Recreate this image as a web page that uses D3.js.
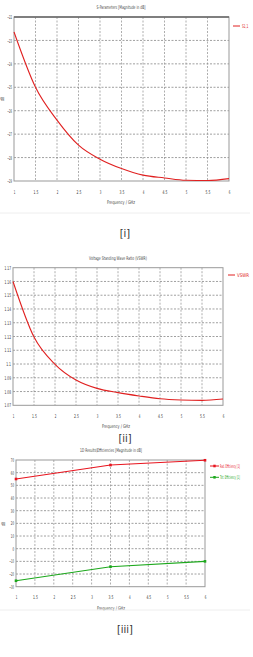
<!DOCTYPE html>
<html><head><meta charset="utf-8">
<script src="https://cdn.jsdelivr.net/npm/d3@7"></script>
<style>body{margin:0;background:#fff}svg{display:block}text{font-family:"DejaVu Sans Condensed","Liberation Sans",sans-serif}</style>
</head><body><svg id="c" width="253" height="657"></svg>
<script>
const freqTicks = [1,1.5,2,2.5,3,3.5,4,4.5,5,5.5,6];
const freqs = [1,1.5,2,2.5,3,3.5,4,4.5,5,5.5,6];
const s11 = [-22.64,-25.0,-26.4,-27.47,-28.07,-28.47,-28.75,-28.87,-28.97,-28.98,-28.9];
const vswr = [1.16,1.1196,1.0998,1.0884,1.0823,1.0792,1.0768,1.0748,1.0739,1.0736,1.0746];
const effFreqs = [1,3.5,6];
const radEff = [55,66,69.8];
const totEff = [-25.3,-14.2,-10];
const s11Ticks = [-22,-23,-24,-25,-26,-27,-28,-29];
const vswrTicks = [1.17,1.16,1.15,1.14,1.13,1.12,1.11,1.1,1.09,1.08,1.07];
const effTicks = [70,60,50,40,30,20,10,0,-10,-20,-30];

const svg = d3.select("#c");
svg.append("rect").attr("width",253).attr("height",657).attr("fill","#fff");

function squeeze(sel, perChar){
  sel.each(function(){
    const t = d3.select(this).text();
    d3.select(this).attr("textLength", Math.max(1.2, t.length*perChar)).attr("lengthAdjust","spacingAndGlyphs");
  });
}
// text horizontally scaled to a target width via transform
function label(g, x, y, txt, len, color, anchor){
  const wrap = g.append("g");
  const t = wrap.append("text").attr("x",0).attr("y",0).attr("text-anchor",anchor||"middle")
    .attr("font-size",5).attr("fill",color||"#444").text(txt);
  const w = t.node().getComputedTextLength() || len;
  wrap.attr("transform",`translate(${x},${y}) scale(${len/w},1)`);
  return wrap;
}

function chart(cfg){
  const g = svg.append("g");
  const x = d3.scaleLinear().domain([1,6]).range([cfg.l,cfg.r]);
  const y = d3.scaleLinear().domain(cfg.ydom).range([cfg.b,cfg.t]);
  g.selectAll(".vg").data(freqTicks.slice(1,-1)).join("line")
    .attr("x1",d=>x(d)).attr("x2",d=>x(d)).attr("y1",cfg.t).attr("y2",cfg.b)
    .attr("stroke","#999").attr("stroke-width",0.8).attr("stroke-dasharray","2,1.5");
  g.selectAll(".hg").data(cfg.yticks.slice(1,-1)).join("line")
    .attr("y1",d=>y(d)).attr("y2",d=>y(d)).attr("x1",cfg.l).attr("x2",cfg.r)
    .attr("stroke","#888").attr("stroke-width",0.8).attr("stroke-dasharray","2,1.5");
  g.append("rect").attr("x",cfg.l).attr("y",cfg.t).attr("width",cfg.r-cfg.l).attr("height",cfg.b-cfg.t)
    .attr("fill","none").attr("stroke","#999").attr("stroke-width",1);
  if(cfg.thickTop) g.append("line").attr("x1",cfg.l).attr("x2",cfg.r).attr("y1",cfg.t).attr("y2",cfg.t)
    .attr("stroke","#666").attr("stroke-width",1.6);
  const xa = d3.axisBottom(x).tickValues(freqTicks).tickSize(0).tickPadding(0).tickFormat(d3.format("~g"));
  const xg = g.append("g").attr("transform",`translate(0,${cfg.b+9})`).call(xa);
  xg.select(".domain").remove();
  xg.selectAll("text").attr("font-size",5).attr("fill","#333").call(squeeze,1.6);
  const ya = d3.axisLeft(y).tickValues(cfg.yticks).tickSize(0).tickPadding(0).tickFormat(d3.format("~g"));
  const yg = g.append("g").attr("transform",`translate(${cfg.l-2},0)`).call(ya);
  yg.select(".domain").remove();
  yg.selectAll("text").attr("font-size",5).attr("fill","#333").call(squeeze,1.6);
  label(g,cfg.tx,cfg.t-8,cfg.title,cfg.tlen);
  label(g,cfg.fx,cfg.b+23,"Frequency / GHz",28);
  if(cfg.ylab) g.append("text").attr("transform",`translate(${cfg.ylabx},${cfg.ylaby}) rotate(-90)`).attr("text-anchor","middle")
    .attr("font-size",5).attr("fill","#444").attr("textLength",4).attr("lengthAdjust","spacingAndGlyphs").text("dB");
  return {g,x,y};
}

// Chart 1
const c1 = chart({l:14,r:229,t:17,b:181,ydom:[-29,-22],yticks:s11Ticks,title:"S-Parameters [Magnitude in dB]",tx:121,tlen:49,fx:121,thickTop:true,ylab:true,ylabx:4,ylaby:99});
c1.g.append("path").datum(freqs.map((f,i)=>[f,s11[i]]))
  .attr("d",d3.line().x(d=>c1.x(d[0])).y(d=>c1.y(d[1])).curve(d3.curveMonotoneX))
  .attr("fill","none").attr("stroke","#e02020").attr("stroke-width",1.1);
c1.g.append("line").attr("x1",233).attr("x2",240).attr("y1",26).attr("y2",26).attr("stroke","#e02020").attr("stroke-width",1);
label(c1.g,242,28,"S1,1",6.5,"#e02020","start");

svg.append("line").attr("x1",0).attr("x2",250).attr("y1",213).attr("y2",213).attr("stroke","#eee").attr("stroke-width",1);
svg.append("text").attr("x",125).attr("y",237).attr("text-anchor","middle").attr("font-family","Liberation Serif").attr("font-size",11).attr("fill","#333").text("[i]");

// Chart 2
const c2 = chart({l:13,r:223,t:267.7,b:405.3,ydom:[1.07,1.17],yticks:vswrTicks,title:"Voltage Standing Wave Ratio (VSWR)",tx:118,tlen:58,fx:116,thickTop:false,ylab:false});
c2.g.append("path").datum(freqs.map((f,i)=>[f,vswr[i]]))
  .attr("d",d3.line().x(d=>c2.x(d[0])).y(d=>c2.y(d[1])).curve(d3.curveMonotoneX))
  .attr("fill","none").attr("stroke","#e02020").attr("stroke-width",1.1);
c2.g.append("line").attr("x1",228).attr("x2",235).attr("y1",275).attr("y2",275).attr("stroke","#e02020").attr("stroke-width",1);
label(c2.g,237,277,"VSWR",12,"#e02020","start");
svg.append("text").attr("x",125).attr("y",442).attr("text-anchor","middle").attr("font-family","Liberation Serif").attr("font-size",11).attr("fill","#333").text("[ii]");

// Chart 3
const c3 = chart({l:16,r:205,t:460,b:586.7,ydom:[-30,70],yticks:effTicks,title:"1D Results\\Efficiencies [Magnitude in dB]",tx:111,tlen:62,fx:111,thickTop:false,ylab:true,ylabx:5,ylaby:524});
const series = [{v:radEff,c:"#e8141e",name:"Rad. Efficiency [1]",ly:466},{v:totEff,c:"#1ca81c",name:"Tot. Efficiency [1]",ly:477.3}];
series.forEach(s=>{
  const pts = effFreqs.map((f,i)=>[f,s.v[i]]);
  c3.g.append("path").datum(pts).attr("d",d3.line().x(d=>c3.x(d[0])).y(d=>c3.y(d[1])))
    .attr("fill","none").attr("stroke",s.c).attr("stroke-width",1.1);
  c3.g.selectAll(null).data(pts).join("rect").attr("x",d=>c3.x(d[0])-1.3).attr("y",d=>c3.y(d[1])-1.3)
    .attr("width",2.6).attr("height",2.6).attr("fill",s.c);
  c3.g.append("line").attr("x1",210).attr("x2",219).attr("y1",s.ly).attr("y2",s.ly).attr("stroke",s.c).attr("stroke-width",1);
  c3.g.append("rect").attr("x",213.3).attr("y",s.ly-1.3).attr("width",2.4).attr("height",2.6).attr("fill",s.c);
  label(c3.g,220,s.ly+1.8,s.name,20,s.c,"start");
});
svg.append("line").attr("x1",0).attr("x2",250).attr("y1",610).attr("y2",610).attr("stroke","#eee").attr("stroke-width",1);
svg.append("text").attr("x",125).attr("y",633).attr("text-anchor","middle").attr("font-family","Liberation Serif").attr("font-size",11).attr("fill","#333").text("[iii]");
</script></body></html>
